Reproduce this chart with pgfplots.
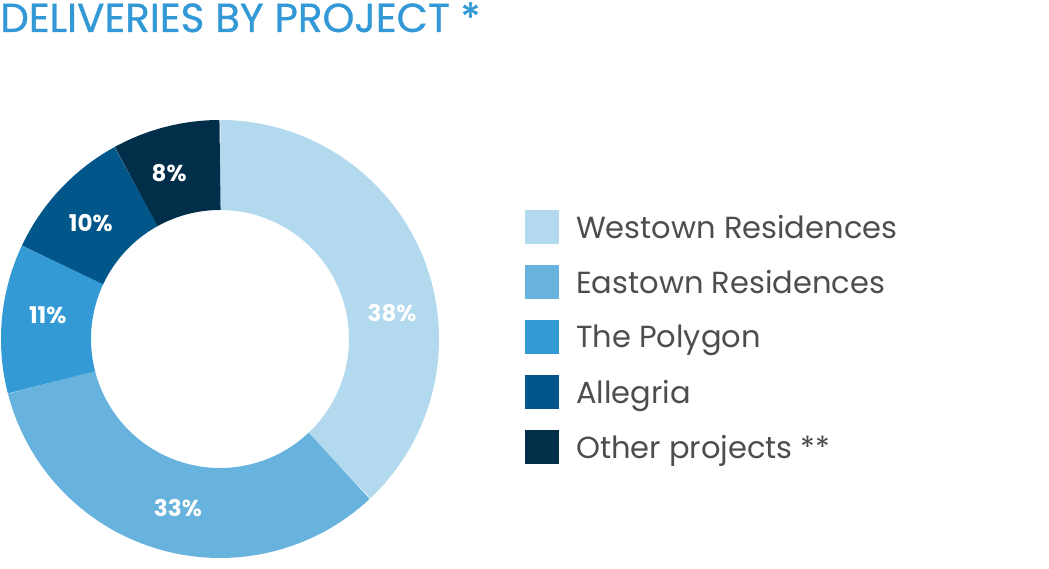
\documentclass[border=0pt]{standalone}
\usepackage{fontspec}
\setmainfont{Poppins}
\usepackage{pgfplots}
\pgfplotsset{compat=1.18}

\definecolor{cWest}{HTML}{B3D9EE}
\definecolor{cEast}{HTML}{67B3DD}
\definecolor{cPoly}{HTML}{339AD6}
\definecolor{cAlle}{HTML}{02578A}
\definecolor{cOther}{HTML}{012F4A}
\definecolor{cTitle}{HTML}{3399D6}
\definecolor{cText}{HTML}{4D4D4D}

% ring centre (px), mid radius, ring width
\def\cx{220}
\def\cy{230}
\def\rm{174}

% #1 share before this slice, #2 share, #3 colour, #4 label angle
\newcommand{\slice}[4]{%
  \addplot[draw=#3, line width=90pt, line cap=butt, samples=120,
    domain=90-3.6*(#1+#2):90-3.6*#1,
    legend image code/.code={\path[draw=none, fill=#3] (0pt,-17pt) rectangle (34pt,17pt);}]
    ({\cx+\rm*cos(x)},{\cy+\rm*sin(x)});
  \node[text=white, font=\fontsize{23}{24}\selectfont\bfseries, inner sep=0pt]
    at (axis cs:{\cx+\rm*cos(#4)},{\cy+\rm*sin(#4)}) {#2\%};
}

\begin{document}
\begin{tikzpicture}
\begin{axis}[
  width=1049pt, height=569pt, scale only axis,
  xmin=0, xmax=1049, ymin=0, ymax=569,
  hide axis, clip=false,
  legend cell align=left,
  legend style={at={(axis cs:525,359)}, anchor=north west,
    draw=none, fill=none, inner sep=0pt,
    font=\fontsize{30.5}{32}\selectfont, text=cText,
    row sep=21pt,
    nodes={inner sep=0pt},
    /tikz/every odd column/.append style={column sep=17pt}},
]
\addplot[draw=none, forget plot] coordinates {(0,0) (1049,569)};

\slice{0}{38}{cWest}{8.5}
\addlegendentry{Westown Residences}
\slice{38}{33}{cEast}{-104}
\addlegendentry{Eastown Residences}
\slice{71}{11}{cPoly}{172}
\addlegendentry{The Polygon}
\slice{82}{10}{cAlle}{138}
\addlegendentry{Allegria}
\slice{92}{8}{cOther}{107}
\addlegendentry{Other projects **}

\node[anchor=base west, inner sep=0pt, text=cTitle,
  font=\fontsize{40.5}{42}\selectfont\addfontfeatures{FakeBold=0.8}]
  at (axis cs:0,537) {DELIVERIES BY PROJECT *};
\end{axis}
\end{tikzpicture}
\end{document}
